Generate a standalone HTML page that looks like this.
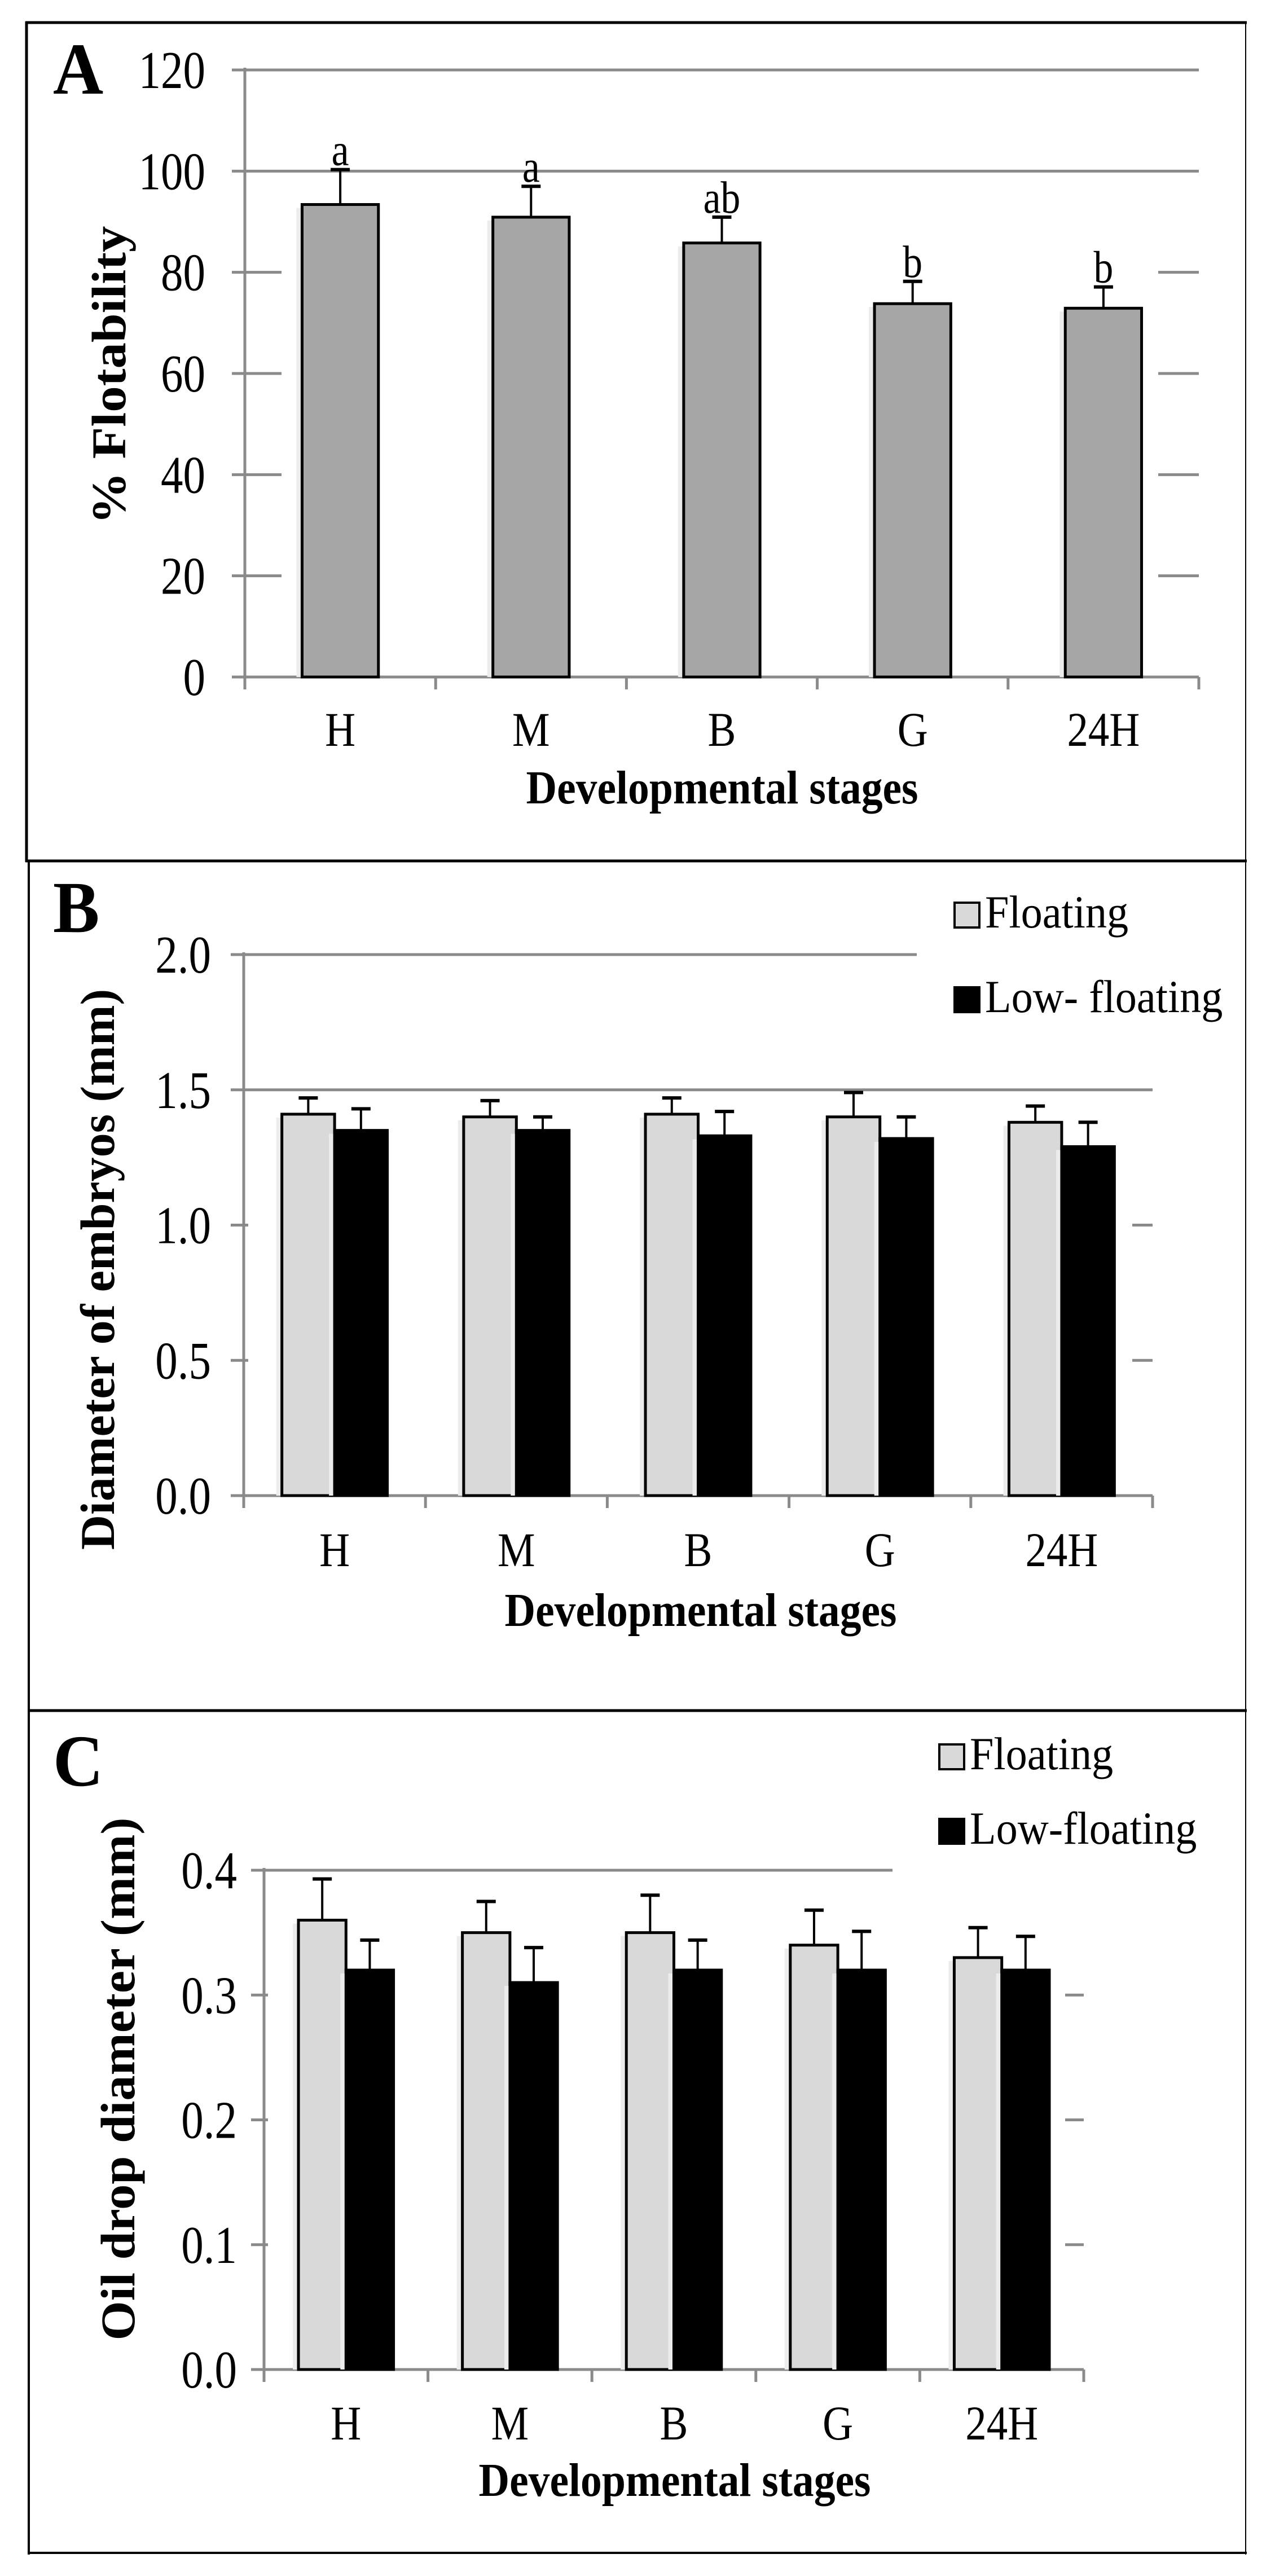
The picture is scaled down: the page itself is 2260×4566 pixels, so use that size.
<!DOCTYPE html>
<html><head><meta charset="utf-8"><style>
html,body{margin:0;padding:0;background:#fff}
svg{display:block}
text{font-family:"Liberation Serif",serif;fill:#000}
</style></head><body>
<svg id="fig" width="2260" height="4566" viewBox="0 0 2260 4566" xmlns="http://www.w3.org/2000/svg">
<rect x="0" y="0" width="2260" height="4566" fill="#fff"/>
<g id="frames">
<line x1="45" y1="40" x2="2210" y2="40" stroke="#000" stroke-width="5"/>
<line x1="47" y1="38" x2="47" y2="1528" stroke="#000" stroke-width="5"/>
<line x1="2208" y1="38" x2="2208" y2="4528" stroke="#000" stroke-width="2"/>
<line x1="45" y1="1526" x2="2210" y2="1526" stroke="#000" stroke-width="5"/>
<line x1="51" y1="1526" x2="51" y2="4528" stroke="#000" stroke-width="4"/>
<line x1="49" y1="3032" x2="2210" y2="3032" stroke="#000" stroke-width="5"/>
<line x1="49" y1="4525" x2="2210" y2="4525" stroke="#000" stroke-width="4"/>
</g>
</svg>
<script>
// Panel A data
const catsA = ["H","M","B","G","24H"];
const valsA = [93.4, 90.9, 85.8, 73.8, 72.9];
const errsA = [6.9, 6.1, 5.1, 4.4, 4.2];
const sigA = ["a","a","ab","b","b"];
const ticksA = [0,20,40,60,80,100,120];
// Panel B data
const catsB = ["H","M","B","G","24H"];
const floatB = [1.41, 1.40, 1.41, 1.40, 1.38];
const floatErrB = [0.06, 0.06, 0.06, 0.09, 0.06];
const lowB = [1.35, 1.35, 1.33, 1.32, 1.29];
const lowErrB = [0.08, 0.05, 0.09, 0.08, 0.09];
const ticksB = ["0.0","0.5","1.0","1.5","2.0"];
// Panel C data
const catsC = ["H","M","B","G","24H"];
const floatC = [0.36, 0.35, 0.35, 0.34, 0.33];
const floatErrC = [0.033, 0.025, 0.03, 0.028, 0.024];
const lowC = [0.32, 0.31, 0.32, 0.32, 0.32];
const lowErrC = [0.024, 0.028, 0.024, 0.031, 0.027];
const ticksC = ["0.0","0.1","0.2","0.3","0.4"];

const NS = "http://www.w3.org/2000/svg";
const svg = document.getElementById("fig");
function mk(tag, attrs, parent){
  const e = document.createElementNS(NS, tag);
  for (const k in attrs) e.setAttribute(k, attrs[k]);
  (parent||svg).appendChild(e);
  return e;
}
function txt(parent, s, x, y, size, opts){
  opts = opts||{};
  const g = mk("g", {transform:"translate("+x+","+y+")"+(opts.rot?" rotate(-90)":"")+" scale("+(opts.sx||0.87)+",1)"}, parent);
  const t = mk("text", {x:0, y:0, "font-size":size, "text-anchor":opts.anchor||"middle", "font-weight":opts.bold?"bold":"normal"}, g);
  t.textContent = s;
  return t;
}

function panel(cfg){
  const g = mk("g", {});
  
  
  const y = v => cfg.y0 - (v - cfg.vmin) / (cfg.vmax - cfg.vmin) * (cfg.y0 - cfg.ytop);
  const n = cfg.cats.length;
  const cw = (cfg.xr - cfg.xl) / n;
  const cx = i => cfg.xl + cw * (i + 0.5);
  const grid = "#8a8a8a";
  cfg.ticks.forEach((tv) => {
    const v = parseFloat(tv);
    const yy = y(v);
    if (v === cfg.vmin) return;
    if (cfg.fullGrid(v)) {
      const gl = mk("line", {x1:cfg.xl-23, y1:yy, x2:cfg.fullEnd(v), y2:yy, stroke:grid, "stroke-width":5}, g);
      
      
    } else {
      const a = mk("line", {x1:cfg.xl-23, y1:yy, x2:cfg.leftSegEnd, y2:yy, stroke:grid, "stroke-width":5}, g);
      
      
      const b = mk("line", {x1:cfg.rightSegStart, y1:yy, x2:cfg.xr, y2:yy, stroke:grid, "stroke-width":5}, g);
      
      
    }
  });
  const ya = mk("line", {x1:cfg.xl, y1:cfg.ytop-4, x2:cfg.xl, y2:cfg.y0+22, stroke:grid, "stroke-width":5}, g);
  
  
  const xa = mk("line", {x1:cfg.xl-23, y1:cfg.y0, x2:cfg.xr, y2:cfg.y0, stroke:grid, "stroke-width":5}, g);
  
  
  for (let i = 0; i <= n; i++) {
    const xx = cfg.xl + cw * i;
    const tk = mk("line", {x1:xx, y1:cfg.y0, x2:xx, y2:cfg.y0+22, stroke:grid, "stroke-width":5}, g);
    
    
  }
  cfg.ticks.forEach(tv => {
    const t = txt(g, String(tv), cfg.labelX, y(parseFloat(tv)) + 32, 94, {anchor:"end", sx:0.84});
    
    
  });
  const series = cfg.series;
  const bw = cw * cfg.bwFrac;
  const total = bw * series.length;
  series.forEach((s, si) => {
    s.vals.forEach((v, i) => {
      const x0 = cx(i) - total/2 + si*bw;
      const top = y(v);
      const sh = mk("rect", {x:x0-10, y:top+6, width:10, height:cfg.y0-top-6, fill:"#ececec"}, g);
      
      
      const r = mk("rect", {x:x0, y:top, width:bw, height:cfg.y0-top, fill:s.fill, stroke:"#000", "stroke-width":5}, g);
      
      
      const et = y(v + s.errs[i]);
      const ex = x0 + bw/2;
      const el = mk("line", {x1:ex, y1:top, x2:ex, y2:et, stroke:"#000", "stroke-width":4}, g);
      
      
      const ec = mk("line", {x1:ex-17, y1:et, x2:ex+17, y2:et, stroke:"#000", "stroke-width":6}, g);
      
      
      if (s.sig) {
        const st = txt(g, s.sig[i], ex, et - 8, 80, {});
        
        
      }
    });
  });
  cfg.cats.forEach((c, i) => {
    const t = txt(g, c, cx(i), cfg.catY, 86, {});
    
    
  });
  const xt = txt(g, "Developmental stages", cfg.xTitleX, cfg.xTitleY, 84, {bold:true, sx:0.9});
  
  
  const yt = txt(g, cfg.yTitle, cfg.yTitleX, cfg.yTitleY, 86, {bold:true, rot:true, sx:cfg.yTitleSx||1.0});
  
  
  const pl = txt(g, cfg.letter, 94, cfg.letterY, 130, {bold:true, anchor:"start", sx:0.95});
  
  
  if (cfg.legend) {
    const lg = mk("g", {}, g);
    
    
    cfg.legend.items.forEach((it, k) => {
      const ly = cfg.legend.y + k * cfg.legend.dy;
      const sq = mk("rect", {x:cfg.legend.x, y:ly-44, width:44, height:44, fill:it.fill, stroke:"#000", "stroke-width":4}, lg);
      
      
      const lt = txt(lg, it.label, cfg.legend.x + 54, ly, 82, {anchor:"start", sx:0.93});
      
      
    });
  }
}

panel({name:"panel-a-flotability", cats:catsA, vmin:0, vmax:120, y0:1200, ytop:124, xl:434, xr:2125,
  ticks:ticksA, fullGrid:v=>v>=100, fullEnd:()=>2125, leftSegEnd:499, rightSegStart:2053, labelX:364,
  bwFrac:0.4, series:[{key:"flotability", vals:valsA, errs:errsA, fill:"#a6a6a6", sig:sigA}],
  catY:1322, xTitleX:1280, xTitleY:1424, yTitle:"% Flotability", yTitleX:222, yTitleY:665, yTitleSx:1.08,
  letter:"A", letterY:166});

panel({name:"panel-b-embryo-diameter", cats:catsB, vmin:0, vmax:2, y0:2651, ytop:1692, xl:432, xr:2043,
  ticks:ticksB, fullGrid:v=>v>=1.5, fullEnd:v=>v>=2?1625:2043, leftSegEnd:440, rightSegStart:2007, labelX:374,
  bwFrac:0.29, series:[{key:"floating", vals:floatB, errs:floatErrB, fill:"#d9d9d9"},{key:"low-floating", vals:lowB, errs:lowErrB, fill:"#000"}],
  catY:2776, xTitleX:1242, xTitleY:2882, yTitle:"Diameter  of embryos (mm)", yTitleX:202, yTitleY:2250, yTitleSx:1.0,
  letter:"B", letterY:1652,
  legend:{x:1692, y:1644, dy:150, items:[{key:"floating", label:"Floating", fill:"#d9d9d9"},{key:"low-floating", label:"Low- floating", fill:"#000"}]}});

panel({name:"panel-c-oil-drop-diameter", cats:catsC, vmin:0, vmax:0.4, y0:4200, ytop:3315, xl:468, xr:1921,
  ticks:ticksC, fullGrid:v=>v>=0.4, fullEnd:()=>1582, leftSegEnd:475, rightSegStart:1888, labelX:420,
  bwFrac:0.29, series:[{key:"floating", vals:floatC, errs:floatErrC, fill:"#d9d9d9"},{key:"low-floating", vals:lowC, errs:lowErrC, fill:"#000"}],
  catY:4324, xTitleX:1196, xTitleY:4424, yTitle:"Oil drop diameter  (mm)", yTitleX:238, yTitleY:3685, yTitleSx:1.05,
  letter:"C", letterY:3165,
  legend:{x:1665, y:3136, dy:132, items:[{key:"floating", label:"Floating", fill:"#d9d9d9"},{key:"low-floating", label:"Low-floating", fill:"#000"}]}});
</script>
</body></html>
